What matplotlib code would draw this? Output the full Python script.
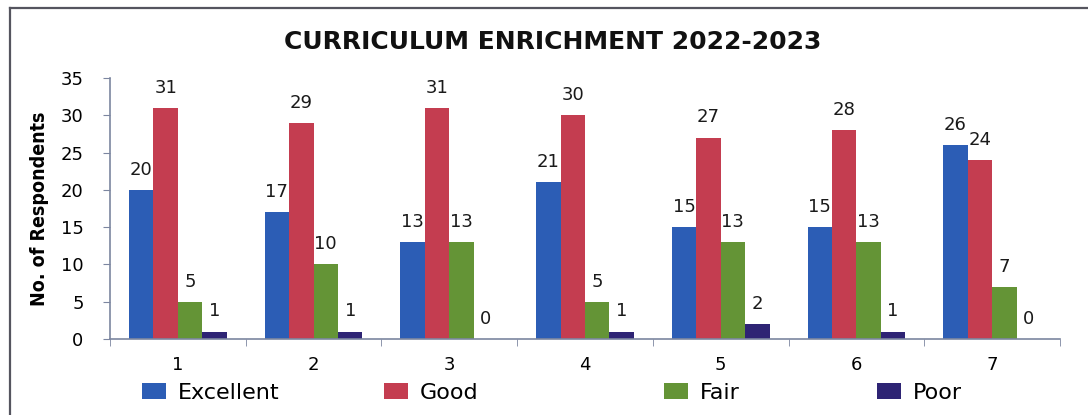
import matplotlib
matplotlib.use("Agg")
import matplotlib.pyplot as plt
import numpy as np
from matplotlib.lines import Line2D
from matplotlib.patches import Patch

categories = ["1", "2", "3", "4", "5", "6", "7"]
series_names = ["Excellent", "Good", "Fair", "Poor"]
excellent = [20, 17, 13, 21, 15, 15, 26]
good = [31, 29, 31, 30, 27, 28, 24]
fair = [5, 10, 13, 5, 13, 13, 7]
poor = [1, 1, 0, 1, 2, 1, 0]
y_ticks = [0, 5, 10, 15, 20, 25, 30, 35]

colors = ["#2C5DB5", "#C43D50", "#649436", "#2E2474"]
W, H = 1088, 415
fig = plt.figure(figsize=(W / 100, H / 100), dpi=100)
fig.patch.set_facecolor("white")

# outer chart border (left and top visible)
fig.add_artist(Line2D([10 / W, 10 / W], [0, 1 - 8 / H], color="#55555f", lw=1.6))
fig.add_artist(Line2D([10 / W, 1], [1 - 8 / H, 1 - 8 / H], color="#55555f", lw=1.6))

ax = fig.add_axes([110 / W, (H - 339) / H, (1060 - 110) / W, (339 - 78) / H])
x = np.arange(len(categories))
bw = 0.18
all_series = [excellent, good, fair, poor]
for i, (vals, c, name) in enumerate(zip(all_series, colors, series_names)):
    pos = x + (i - 1.5) * bw
    ax.bar(pos, vals, width=bw, color=c, label=name, zorder=2)
    for p, v in zip(pos, vals):
        ax.text(p, v + 1.5, str(v), ha="center", va="bottom",
                fontsize=13, fontfamily="DejaVu Sans", color="#1a1a1a")

ax.set_xlim(-0.5, len(categories) - 0.5)
ax.set_ylim(0, 35)
ax.set_yticks(y_ticks)
ax.set_yticklabels([str(t) for t in y_ticks], fontsize=13, fontfamily="DejaVu Sans")
ax.set_xticks(x)
ax.set_xticklabels(categories, fontsize=13, fontfamily="DejaVu Sans")
ax.set_xticks(np.arange(len(categories) + 1) - 0.5, minor=True)
ax.tick_params(axis="x", which="major", length=0, pad=12)
ax.tick_params(axis="x", which="minor", length=5, color="#7c86a0", direction="out")
ax.tick_params(axis="y", length=5, color="#7c86a0", direction="out", pad=14)
for s in ["top", "right"]:
    ax.spines[s].set_visible(False)
for s in ["left", "bottom"]:
    ax.spines[s].set_color("#7c86a0")
    ax.spines[s].set_linewidth(1.2)

ax.set_ylabel("No. of Respondents", fontsize=14, fontweight="bold",
              fontfamily="DejaVu Sans", fontstretch="condensed", labelpad=8)

fig.text(553 / W, 1 - 42 / H, "CURRICULUM ENRICHMENT 2022-2023", ha="center", va="center",
         fontsize=18, fontweight="bold", fontfamily="DejaVu Sans", color="#111111")

legend_x = [142, 384, 664, 877]
for name, c, lx in zip(series_names, colors, legend_x):
    fig.legend([Patch(facecolor=c)], [name], loc="center left",
               bbox_to_anchor=(lx / W, 1 - 393 / H), frameon=False,
               handlelength=1.1, handleheight=0.7, handletextpad=0.5,
               borderpad=0, borderaxespad=0,
               prop={"family": "DejaVu Sans", "size": 16})

fig.savefig("out.png", dpi=100, facecolor="white")
